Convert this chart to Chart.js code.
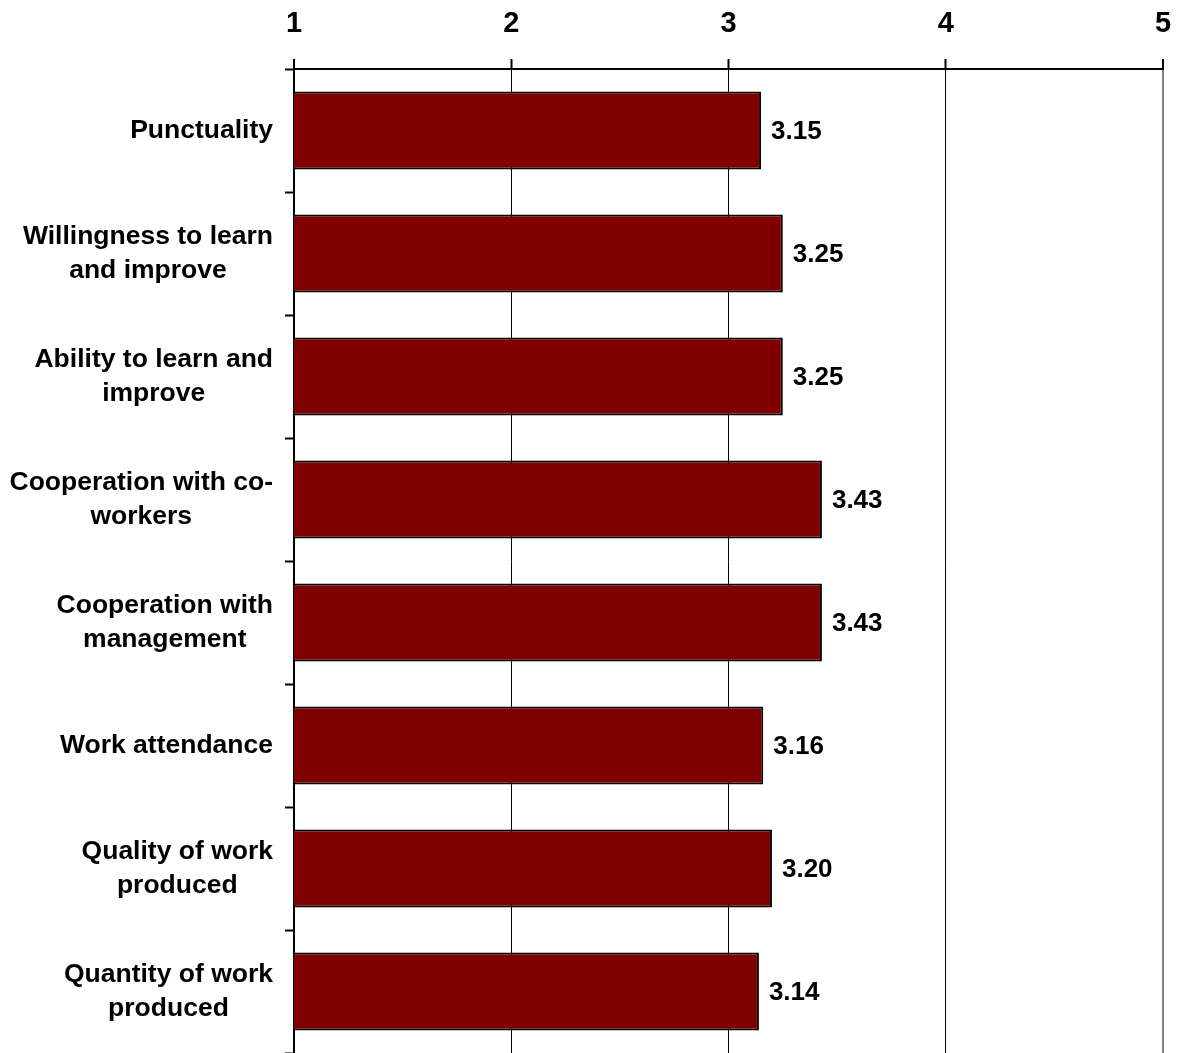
<!DOCTYPE html>
<html>
<head>
<meta charset="utf-8">
<script src="https://cdn.jsdelivr.net/npm/chart.js@4"></script>
<style>
  html, body { margin: 0; padding: 0; background: #fff; }
  #wrap { width: 1177px; height: 1053px; }
</style>
</head>
<body>
<div id="wrap"><canvas id="chart"></canvas></div>
<script>
const categories = [
    ['Punctuality'],
    ['Willingness to learn', 'and improve'],
    ['Ability to learn and', 'improve'],
    ['Cooperation with co-', 'workers'],
    ['Cooperation with', 'management'],
    ['Work attendance'],
    ['Quality of work', 'produced'],
    ['Quantity of work', 'produced']
];
const scores = [3.15, 3.25, 3.25, 3.43, 3.43, 3.16, 3.20, 3.14];
const scaleTicks = [1, 2, 3, 4, 5];

const FONT = '"Liberation Sans", Arial, sans-serif';

// value labels at the end of each bar
const valueLabels = {
    id: 'valueLabels',
    afterDatasetsDraw(chart) {
        const ctx = chart.ctx;
        const meta = chart.getDatasetMeta(0);
        ctx.save();
        ctx.font = 'bold 26px ' + FONT;
        ctx.fillStyle = '#000';
        ctx.textAlign = 'left';
        ctx.textBaseline = 'middle';
        meta.data.forEach((bar, i) => {
            ctx.fillText(scores[i].toFixed(2), bar.x + 10, bar.y + 1);
        });
        ctx.restore();
    }
};

// category labels: block right-aligned to the axis, lines centred inside the block
const categoryLabels = {
    id: 'categoryLabels',
    afterDraw(chart) {
        const ctx = chart.ctx;
        const y = chart.scales.y;
        const right = y.right - 21;
        const lh = 34;
        ctx.save();
        ctx.font = 'bold 26.5px ' + FONT;
        ctx.fillStyle = '#000';
        ctx.textAlign = 'center';
        ctx.textBaseline = 'middle';
        categories.forEach((lines, i) => {
            const w = Math.max(...lines.map(s => ctx.measureText(s).width));
            const cx = right - w / 2;
            const cy = y.getPixelForTick(i);
            lines.forEach((s, k) => {
                ctx.fillText(s, cx, cy + (k - (lines.length - 1) / 2) * lh);
            });
        });
        ctx.restore();
    }
};

// drop the automatic label overflow padding so the plot reaches the edges
function noPad(scale) {
    scale.paddingTop = 0;
    scale.paddingBottom = 0;
    scale.paddingLeft = 0;
    scale.paddingRight = 0;
}

new Chart(document.getElementById('chart').getContext('2d'), {
    type: 'bar',
    data: {
        labels: categories,
        datasets: [{
            data: scores,
            backgroundColor: '#800000',
            borderColor: '#000',
            borderWidth: 2,
            borderSkipped: false,
            categoryPercentage: 1,
            barPercentage: 0.634
        }]
    },
    options: {
        indexAxis: 'y',
        responsive: true,
        maintainAspectRatio: false,
        animation: false,
        layout: { padding: { top: 0, right: 14, bottom: 0, left: 0 } },
        plugins: {
            legend: { display: false },
            tooltip: { enabled: false }
        },
        scales: {
            x: {
                position: 'top',
                min: 1,
                max: 5,
                afterBuildTicks(scale) {
                    scale.ticks = scaleTicks.map(v => ({ value: v }));
                },
                afterFit(scale) { scale.height = 69; noPad(scale); },
                ticks: {
                    color: '#000',
                    padding: 18,
                    font: { family: FONT, size: 29, weight: 'bold' }
                },
                grid: {
                    color: c => c.tick && c.tick.value === 5 ? '#808080' : '#000',
                    lineWidth: c => c.tick && (c.tick.value === 5 || c.tick.value === 1) ? 2 : 1,
                    tickColor: '#000',
                    tickWidth: 2,
                    tickLength: 10
                },
                border: { display: true, color: '#000', width: 2 }
            },
            y: {
                afterFit(scale) { scale.width = 294; noPad(scale); },
                ticks: { display: false },
                grid: {
                    offset: true,
                    drawOnChartArea: false,
                    tickColor: '#000',
                    tickWidth: 2,
                    tickLength: 9
                },
                border: { display: true, color: '#000', width: 2 }
            }
        }
    },
    plugins: [valueLabels, categoryLabels]
});
</script>
</body>
</html>
